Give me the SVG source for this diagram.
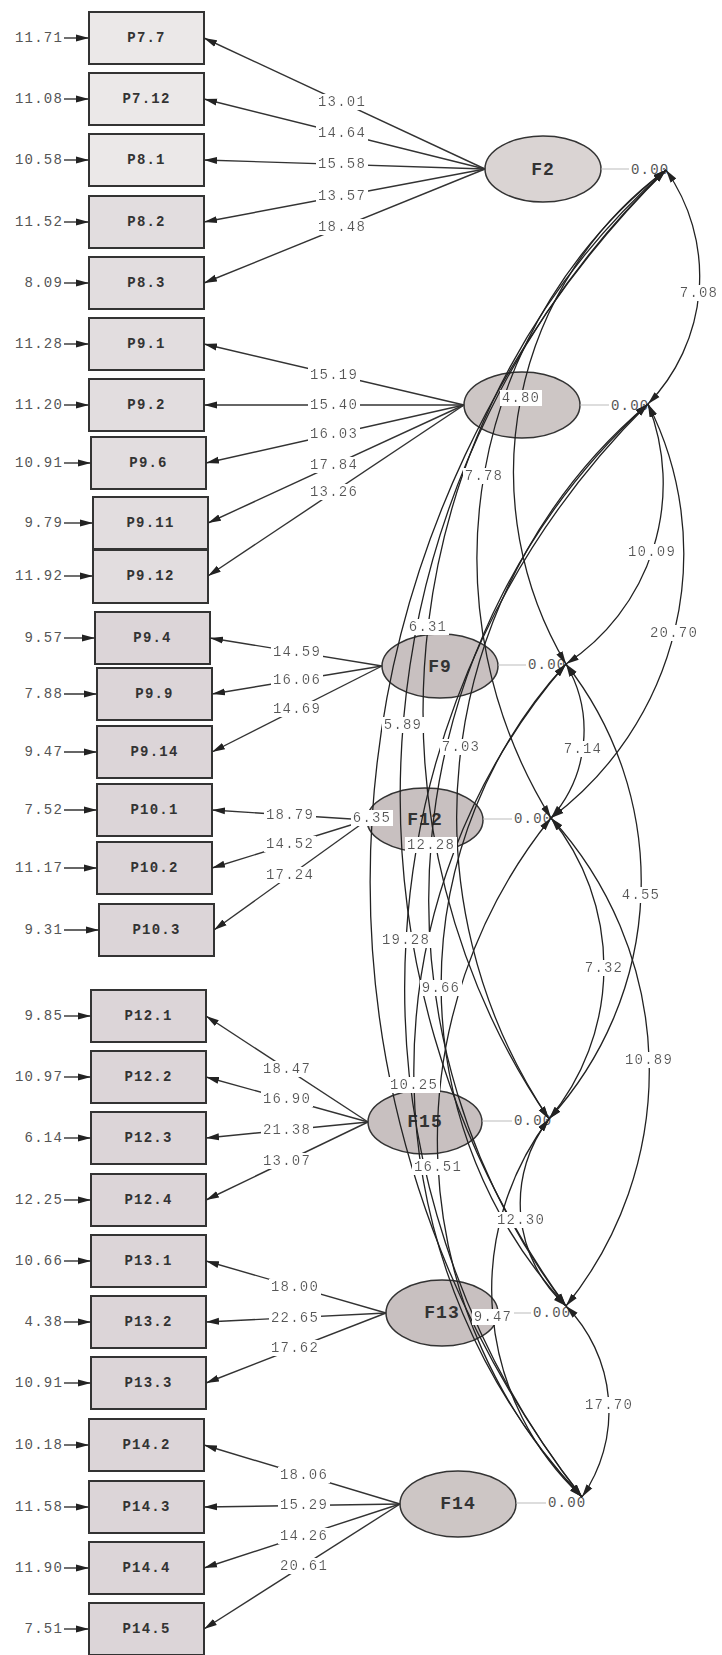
<svg xmlns="http://www.w3.org/2000/svg" width="722" height="1655" viewBox="0 0 722 1655">
<defs>
<marker id="ah" markerUnits="userSpaceOnUse" markerWidth="14" markerHeight="8" viewBox="0 0 14 8" refX="13" refY="4" orient="auto-start-reverse"><path d="M0,0.5 L13,4 L0,7.5 z" fill="#222"/></marker>
<filter id="bg" x="-0.03" y="0" width="1.06" height="1"><feFlood flood-color="#ffffff"/><feComposite in="SourceGraphic" operator="over"/></filter>
<style>
.box{fill:#e2dddf;stroke:#333;stroke-width:2}
.lt{fill:#ebe8e8}
.dk{fill:#dcd5d8}
.lat{fill:#c8c0c0;stroke:#333;stroke-width:1.5}
.t{font-family:"Liberation Mono","DejaVu Sans Mono",monospace;font-size:14px;fill:#555;letter-spacing:1.2px;dominant-baseline:central}
.bl{font-weight:bold;fill:#333;text-anchor:middle}
.fl{font-size:18px;font-weight:bold;fill:#333;text-anchor:middle;letter-spacing:1px}
.err{text-anchor:end}
.lab{text-anchor:middle;filter:url(#bg)}
.ld{stroke:#333;stroke-width:1.4;fill:none;marker-end:url(#ah)}
.cv{stroke:#222;stroke-width:1.3;fill:none;marker-start:url(#ah);marker-end:url(#ah)}
.vl{stroke:#bbb;stroke-width:1}
</style>
</defs>
<rect width="722" height="1655" fill="#fff"/>
<g id="P7_7"><rect class="box lt" x="89" y="12" width="115" height="52"/><text class="t bl" x="146.5" y="38">P7.7</text><text class="t err" x="63" y="38">11.71</text></g>
<g id="P7_12"><rect class="box lt" x="89" y="73" width="115" height="52"/><text class="t bl" x="146.5" y="99">P7.12</text><text class="t err" x="63" y="99">11.08</text></g>
<g id="P8_1"><rect class="box lt" x="89" y="134" width="115" height="52"/><text class="t bl" x="146.5" y="160">P8.1</text><text class="t err" x="63" y="160">10.58</text></g>
<g id="P8_2"><rect class="box" x="89" y="196" width="115" height="52"/><text class="t bl" x="146.5" y="222">P8.2</text><text class="t err" x="63" y="222">11.52</text></g>
<g id="P8_3"><rect class="box" x="89" y="257" width="115" height="52"/><text class="t bl" x="146.5" y="283">P8.3</text><text class="t err" x="63" y="283">8.09</text></g>
<g id="P9_1"><rect class="box" x="89" y="318" width="115" height="52"/><text class="t bl" x="146.5" y="344">P9.1</text><text class="t err" x="63" y="344">11.28</text></g>
<g id="P9_2"><rect class="box" x="89" y="379" width="115" height="52"/><text class="t bl" x="146.5" y="405">P9.2</text><text class="t err" x="63" y="405">11.20</text></g>
<g id="P9_6"><rect class="box" x="91" y="437" width="115" height="52"/><text class="t bl" x="148.5" y="463">P9.6</text><text class="t err" x="63" y="463">10.91</text></g>
<g id="P9_11"><rect class="box" x="93" y="497" width="115" height="52"/><text class="t bl" x="150.5" y="523">P9.11</text><text class="t err" x="63" y="523">9.79</text></g>
<g id="P9_12"><rect class="box" x="93" y="550" width="115" height="53"/><text class="t bl" x="150.5" y="576">P9.12</text><text class="t err" x="63" y="576">11.92</text></g>
<g id="P9_4"><rect class="box dk" x="95" y="612" width="115" height="52"/><text class="t bl" x="152.5" y="638">P9.4</text><text class="t err" x="63" y="638">9.57</text></g>
<g id="P9_9"><rect class="box dk" x="97" y="668" width="115" height="52"/><text class="t bl" x="154.5" y="694">P9.9</text><text class="t err" x="63" y="694">7.88</text></g>
<g id="P9_14"><rect class="box dk" x="97" y="726" width="115" height="52"/><text class="t bl" x="154.5" y="752">P9.14</text><text class="t err" x="63" y="752">9.47</text></g>
<g id="P10_1"><rect class="box dk" x="97" y="784" width="115" height="52"/><text class="t bl" x="154.5" y="810">P10.1</text><text class="t err" x="63" y="810">7.52</text></g>
<g id="P10_2"><rect class="box dk" x="97" y="842" width="115" height="52"/><text class="t bl" x="154.5" y="868">P10.2</text><text class="t err" x="63" y="868">11.17</text></g>
<g id="P10_3"><rect class="box dk" x="99" y="904" width="115" height="52"/><text class="t bl" x="156.5" y="930">P10.3</text><text class="t err" x="63" y="930">9.31</text></g>
<g id="P12_1"><rect class="box dk" x="91" y="990" width="115" height="52"/><text class="t bl" x="148.5" y="1016">P12.1</text><text class="t err" x="63" y="1016">9.85</text></g>
<g id="P12_2"><rect class="box dk" x="91" y="1051" width="115" height="52"/><text class="t bl" x="148.5" y="1077">P12.2</text><text class="t err" x="63" y="1077">10.97</text></g>
<g id="P12_3"><rect class="box dk" x="91" y="1112" width="115" height="52"/><text class="t bl" x="148.5" y="1138">P12.3</text><text class="t err" x="63" y="1138">6.14</text></g>
<g id="P12_4"><rect class="box dk" x="91" y="1174" width="115" height="52"/><text class="t bl" x="148.5" y="1200">P12.4</text><text class="t err" x="63" y="1200">12.25</text></g>
<g id="P13_1"><rect class="box dk" x="91" y="1235" width="115" height="52"/><text class="t bl" x="148.5" y="1261">P13.1</text><text class="t err" x="63" y="1261">10.66</text></g>
<g id="P13_2"><rect class="box dk" x="91" y="1296" width="115" height="52"/><text class="t bl" x="148.5" y="1322">P13.2</text><text class="t err" x="63" y="1322">4.38</text></g>
<g id="P13_3"><rect class="box dk" x="91" y="1357" width="115" height="52"/><text class="t bl" x="148.5" y="1383">P13.3</text><text class="t err" x="63" y="1383">10.91</text></g>
<g id="P14_2"><rect class="box dk" x="89" y="1419" width="115" height="52"/><text class="t bl" x="146.5" y="1445">P14.2</text><text class="t err" x="63" y="1445">10.18</text></g>
<g id="P14_3"><rect class="box dk" x="89" y="1481" width="115" height="52"/><text class="t bl" x="146.5" y="1507">P14.3</text><text class="t err" x="63" y="1507">11.58</text></g>
<g id="P14_4"><rect class="box dk" x="89" y="1542" width="115" height="52"/><text class="t bl" x="146.5" y="1568">P14.4</text><text class="t err" x="63" y="1568">11.90</text></g>
<g id="P14_5"><rect class="box dk" x="89" y="1603" width="115" height="52"/><text class="t bl" x="146.5" y="1629">P14.5</text><text class="t err" x="63" y="1629">7.51</text></g>

<g id="F2"><ellipse class="lat" cx="543" cy="169" rx="58" ry="33" fill="#dad4d3" style="fill:#dad4d3"/><text class="t fl" x="543" y="170">F2</text><line class="vl" x1="601" y1="169" x2="629" y2="169"/><text class="t" x="631" y="170">0.00</text></g>
<g id="F3"><ellipse class="lat" cx="522" cy="405" rx="58" ry="33" style="fill:#cdc6c5"/><line class="vl" x1="580" y1="405" x2="609" y2="405"/><text class="t" x="611" y="406">0.00</text></g>
<g id="F9"><ellipse class="lat" cx="440" cy="666" rx="58" ry="32"/><text class="t fl" x="440" y="667">F9</text><line class="vl" x1="498" y1="665" x2="526" y2="665"/><text class="t" x="528" y="665">0.00</text></g>
<g id="F12"><ellipse class="lat" cx="425" cy="820" rx="58" ry="32"/><text class="t fl" x="425" y="820">F12</text><line class="vl" x1="483" y1="819" x2="512" y2="819"/><text class="t" x="514" y="819">0.00</text></g>
<g id="F15"><ellipse class="lat" cx="425" cy="1122" rx="57" ry="32"/><text class="t fl" x="425" y="1122">F15</text><line class="vl" x1="482" y1="1121" x2="512" y2="1121"/><text class="t" x="514" y="1121">0.00</text></g>
<g id="F13"><ellipse class="lat" cx="442" cy="1313" rx="56" ry="33"/><text class="t fl" x="442" y="1313">F13</text><line class="vl" x1="498" y1="1313" x2="531" y2="1313"/><text class="t" x="533" y="1313">0.00</text></g>
<g id="F14"><ellipse class="lat" cx="458" cy="1504" rx="58" ry="33" style="fill:#cdc6c5"/><text class="t fl" x="458" y="1504">F14</text><line class="vl" x1="516" y1="1503" x2="546" y2="1503"/><text class="t" x="548" y="1503">0.00</text></g>

<g id="connectors">
<g id="errors" class="ld">
<line x1="64" y1="38" x2="89" y2="38"/><line x1="64" y1="99" x2="89" y2="99"/><line x1="64" y1="160" x2="89" y2="160"/><line x1="64" y1="222" x2="89" y2="222"/><line x1="64" y1="283" x2="89" y2="283"/>
<line x1="64" y1="344" x2="89" y2="344"/><line x1="64" y1="405" x2="89" y2="405"/><line x1="64" y1="463" x2="91" y2="463"/><line x1="64" y1="523" x2="93" y2="523"/><line x1="64" y1="576" x2="93" y2="576"/>
<line x1="64" y1="638" x2="95" y2="638"/><line x1="64" y1="694" x2="97" y2="694"/><line x1="64" y1="752" x2="97" y2="752"/><line x1="64" y1="810" x2="97" y2="810"/><line x1="64" y1="868" x2="97" y2="868"/><line x1="64" y1="930" x2="99" y2="930"/>
<line x1="64" y1="1016" x2="91" y2="1016"/><line x1="64" y1="1077" x2="91" y2="1077"/><line x1="64" y1="1138" x2="91" y2="1138"/><line x1="64" y1="1200" x2="91" y2="1200"/>
<line x1="64" y1="1261" x2="91" y2="1261"/><line x1="64" y1="1322" x2="91" y2="1322"/><line x1="64" y1="1383" x2="91" y2="1383"/>
<line x1="64" y1="1445" x2="89" y2="1445"/><line x1="64" y1="1507" x2="89" y2="1507"/><line x1="64" y1="1568" x2="89" y2="1568"/><line x1="64" y1="1629" x2="89" y2="1629"/>
</g>
<g id="loadings" class="ld">
<line x1="485" y1="169" x2="204" y2="38"/><line x1="485" y1="169" x2="204" y2="99"/><line x1="485" y1="169" x2="204" y2="160"/><line x1="485" y1="169" x2="204" y2="222"/><line x1="485" y1="169" x2="204" y2="283"/>
<line x1="464" y1="405" x2="204" y2="344"/><line x1="464" y1="405" x2="204" y2="405"/><line x1="464" y1="405" x2="206" y2="463"/><line x1="464" y1="405" x2="208" y2="523"/><line x1="464" y1="405" x2="208" y2="576"/>
<line x1="382" y1="666" x2="210" y2="638"/><line x1="382" y1="666" x2="212" y2="694"/><line x1="382" y1="666" x2="212" y2="752"/>
<line x1="367" y1="820" x2="212" y2="810"/><line x1="367" y1="820" x2="212" y2="868"/><line x1="367" y1="820" x2="214" y2="930"/>
<line x1="368" y1="1122" x2="206" y2="1016"/><line x1="368" y1="1122" x2="206" y2="1077"/><line x1="368" y1="1122" x2="206" y2="1138"/><line x1="368" y1="1122" x2="206" y2="1200"/>
<line x1="386" y1="1313" x2="206" y2="1261"/><line x1="386" y1="1313" x2="206" y2="1322"/><line x1="386" y1="1313" x2="206" y2="1383"/>
<line x1="400" y1="1504" x2="204" y2="1445"/><line x1="400" y1="1504" x2="204" y2="1507"/><line x1="400" y1="1504" x2="204" y2="1568"/><line x1="400" y1="1504" x2="204" y2="1629"/>
</g>
<g id="covariances" class="cv">
<path d="M666,170 A184,184 0 0 1 648,404"/>
<path d="M648,404 A216,216 0 0 1 566,664"/>
<path d="M648,404 A330,330 0 0 1 551,818"/>
<path d="M566,664 A132,132 0 0 1 551,818"/>
<path d="M566,664 A352,352 0 0 1 549,1119"/>
<path d="M551,818 A237,237 0 0 1 549,1119"/>
<path d="M551,818 A374,374 0 0 1 566,1306"/>
<path d="M549,1119 A138,138 0 0 0 566,1306"/>
<path d="M549,1119 A283,283 0 0 0 582,1497"/>
<path d="M566,1306 A150,150 0 0 1 582,1497"/>
<path d="M666,170 A376,376 0 0 0 566,664"/>
<path d="M666,170 A493,493 0 0 0 551,818"/>
<path d="M666,170 A724,724 0 0 0 549,1119"/>
<path d="M666,170 A869,869 0 0 0 566,1306"/>
<path d="M666,170 A1002,1002 0 0 0 582,1497"/>
<path d="M648,404 A541,541 0 0 0 549,1119"/>
<path d="M648,404 A670,670 0 0 0 566,1306"/>
<path d="M648,404 A821,821 0 0 0 582,1497"/>
<path d="M566,664 A475,475 0 0 0 566,1306"/>
<path d="M566,664 A622,622 0 0 0 582,1497"/>
<path d="M551,818 A513,513 0 0 0 582,1497"/>
</g>
</g>

<g id="labels">
<text class="t lab" x="342" y="102">13.01</text><text class="t lab" x="342" y="133">14.64</text><text class="t lab" x="342" y="164">15.58</text><text class="t lab" x="342" y="196">13.57</text><text class="t lab" x="342" y="227">18.48</text>
<text class="t lab" x="334" y="375">15.19</text><text class="t lab" x="334" y="405">15.40</text><text class="t lab" x="334" y="434">16.03</text><text class="t lab" x="334" y="465">17.84</text><text class="t lab" x="334" y="492">13.26</text>
<text class="t lab" x="297" y="652">14.59</text><text class="t lab" x="297" y="680">16.06</text><text class="t lab" x="297" y="709">14.69</text>
<text class="t lab" x="290" y="815">18.79</text><text class="t lab" x="290" y="844">14.52</text><text class="t lab" x="290" y="875">17.24</text>
<text class="t lab" x="287" y="1069">18.47</text><text class="t lab" x="287" y="1099">16.90</text><text class="t lab" x="287" y="1130">21.38</text><text class="t lab" x="287" y="1161">13.07</text>
<text class="t lab" x="295" y="1287">18.00</text><text class="t lab" x="295" y="1318">22.65</text><text class="t lab" x="295" y="1348">17.62</text>
<text class="t lab" x="304" y="1475">18.06</text><text class="t lab" x="304" y="1505">15.29</text><text class="t lab" x="304" y="1536">14.26</text><text class="t lab" x="304" y="1566">20.61</text>
<text class="t lab" x="699" y="293">7.08</text>
<text class="t lab" x="652" y="552">10.09</text>
<text class="t lab" x="674" y="633">20.70</text>
<text class="t lab" x="583" y="749">7.14</text>
<text class="t lab" x="641" y="895">4.55</text>
<text class="t lab" x="604" y="968">7.32</text>
<text class="t lab" x="649" y="1060">10.89</text>
<text class="t lab" x="521" y="1220">12.30</text>
<text class="t lab" x="493" y="1317">9.47</text>
<text class="t lab" x="609" y="1405">17.70</text>
<text class="t lab" x="521" y="398">4.80</text>
<text class="t lab" x="484" y="476">7.78</text>
<text class="t lab" x="428" y="627">6.31</text>
<text class="t lab" x="403" y="725">5.89</text>
<text class="t lab" x="372" y="818">6.35</text>
<text class="t lab" x="461" y="747">7.03</text>
<text class="t lab" x="431" y="845">12.28</text>
<text class="t lab" x="406" y="940">19.28</text>
<text class="t lab" x="441" y="988">9.66</text>
<text class="t lab" x="414" y="1085">10.25</text>
<text class="t lab" x="438" y="1167">16.51</text>
</g>
</svg>
